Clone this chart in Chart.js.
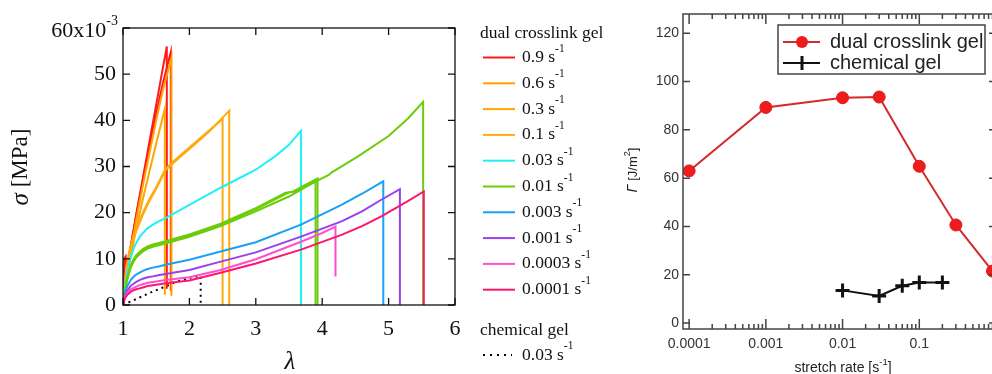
<!DOCTYPE html>
<html>
<head>
<meta charset="utf-8">
<script src="https://cdn.jsdelivr.net/npm/chart.js@4.4.0/dist/chart.umd.min.js"></script>
<style>
html,body{margin:0;padding:0;background:#fff;overflow:hidden;width:992px;height:374px}
#left{position:absolute;left:0;top:0}
#right{position:absolute;left:620px;top:0}
</style>
</head>
<body>
<canvas id="left" width="620" height="374"></canvas>
<canvas id="right" width="400" height="374"></canvas>
<script>
// ---- left panel: stress (x1e-3 MPa) vs stretch, one pair of arrays per curve
const lam09a = [1, 1.02, 1.04, 1.06, 1.1, 1.2, 1.3, 1.4, 1.5, 1.6, 1.66, 1.66];
const sig09a = [0, 10, 10.5, 7, 11, 19.7, 27.6, 35.5, 43.4, 51.3, 56, 3.5];
const lam09b = [1, 1.03, 1.06, 1.1, 1.2, 1.3, 1.4, 1.5, 1.6, 1.72, 1.72];
const sig09b = [0, 6, 9, 11.5, 19.5, 27, 34.5, 41.5, 48, 54.8, 3];
const lam06 = [1, 1.03, 1.06, 1.1, 1.2, 1.3, 1.4, 1.5, 1.6, 1.73, 1.73];
const sig06 = [0, 4, 7.5, 10.5, 18.5, 26, 33, 40, 46.5, 53.5, 2];
const lam03 = [1, 1.03, 1.06, 1.1, 1.2, 1.3, 1.4, 1.5, 1.63, 1.63];
const sig03 = [0, 3.5, 6.5, 9.5, 16.5, 23, 29, 35, 42.5, 2.2];
const lam01a = [1, 1.02, 1.05, 1.1, 1.15, 1.2, 1.3, 1.4, 1.5, 1.64, 1.8, 2, 2.2, 2.5, 2.5];
const sig01a = [0, 4, 8, 12, 14.5, 16.5, 20, 23, 25.5, 29.5, 31.6, 34.1, 36.6, 40.3, 0];
const lam01b = [1, 1.02, 1.05, 1.1, 1.15, 1.2, 1.3, 1.4, 1.5, 1.64, 1.8, 2, 2.3, 2.6, 2.6];
const sig01b = [0, 3.8, 7.7, 11.6, 14, 16, 19.6, 22.6, 25.2, 29.2, 31.3, 33.8, 37.6, 42.1, 0];
const lam003 = [1, 1.015, 1.03, 1.05, 1.07, 1.1, 1.12, 1.16, 1.2, 1.25, 1.3, 1.37, 1.45, 1.55, 1.64, 2, 2.47, 3, 3.3, 3.5, 3.68, 3.68];
const sig003 = [0, 2.2, 4, 6, 7.5, 9.5, 10.5, 12.2, 13.5, 14.7, 15.6, 16.6, 17.4, 18.2, 18.8, 21.7, 25.4, 29.3, 32.3, 34.7, 37.7, 0];
const lam001a = [1, 1.015, 1.03, 1.05, 1.07, 1.1, 1.12, 1.16, 1.2, 1.25, 1.3, 1.37, 1.45, 1.55, 1.64, 2, 2.47, 3, 3.5, 3.6, 4.1, 4.15, 4.54, 5, 5.3, 5.52, 5.52];
const sig001a = [0, 1.6, 3, 4.8, 6, 7.5, 8.5, 9.6, 10.5, 11.2, 11.8, 12.4, 12.8, 13.2, 13.5, 15, 17.3, 20.8, 24.4, 24.6, 28.2, 28.8, 32.2, 36.6, 40.5, 44, 0];
const lam001b = [1, 1.015, 1.03, 1.05, 1.07, 1.1, 1.12, 1.16, 1.2, 1.25, 1.3, 1.37, 1.45, 1.55, 1.64, 2, 2.47, 3, 3.45, 3.55, 3.93, 3.93];
const sig001b = [0, 1.8, 3.2, 5, 6.3, 7.8, 8.8, 9.9, 10.8, 11.5, 12.1, 12.7, 13.1, 13.5, 13.8, 15.3, 17.6, 21, 24.3, 24.5, 27.4, 0];
const lam001c = [1, 1.015, 1.03, 1.05, 1.07, 1.1, 1.12, 1.16, 1.2, 1.25, 1.3, 1.37, 1.45, 1.55, 1.64, 2, 2.47, 3, 3.5, 3.9, 3.9];
const sig001c = [0, 1.5, 2.8, 4.6, 5.8, 7.3, 8.3, 9.4, 10.3, 11, 11.6, 12.2, 12.6, 13, 13.3, 14.8, 17.1, 20.3, 23.5, 26.8, 0];
const lam0003 = [1, 1.015, 1.03, 1.05, 1.07, 1.1, 1.12, 1.16, 1.2, 1.25, 1.3, 1.37, 1.45, 1.55, 1.64, 2, 2.47, 3, 3.68, 4.29, 4.6, 4.92, 4.92];
const sig0003 = [0, 1.4, 2.5, 3.5, 4.2, 5, 5.5, 6.1, 6.6, 7, 7.4, 7.8, 8.1, 8.4, 8.7, 9.8, 11.6, 13.6, 17.4, 21.7, 24.1, 26.8, 0];
const lam0001 = [1, 1.015, 1.03, 1.05, 1.07, 1.1, 1.12, 1.16, 1.2, 1.25, 1.3, 1.37, 1.45, 1.55, 1.64, 2, 2.47, 3, 3.68, 4.29, 4.6, 4.89, 5.17, 5.17];
const sig0001 = [0, 1.1, 2, 2.7, 3.2, 3.8, 4.2, 4.6, 5, 5.4, 5.7, 6, 6.2, 6.5, 6.7, 7.6, 9.4, 11.4, 14.8, 18.1, 20.3, 22.8, 25.1, 0];
const lam00003 = [1, 1.015, 1.03, 1.05, 1.07, 1.1, 1.12, 1.16, 1.2, 1.25, 1.3, 1.37, 1.45, 1.55, 1.64, 2, 2.47, 3, 3.68, 4, 4.2, 4.2];
const sig00003 = [0, 1, 1.8, 2.3, 2.7, 3.1, 3.4, 3.7, 4, 4.3, 4.5, 4.8, 5, 5.2, 5.4, 6, 7.6, 9.9, 13.7, 15.6, 17, 6.2];
const lam00001 = [1, 1.015, 1.03, 1.05, 1.07, 1.1, 1.12, 1.16, 1.2, 1.25, 1.3, 1.37, 1.45, 1.55, 1.64, 2, 2.47, 3, 3.68, 4.29, 4.6, 4.89, 5.29, 5.53, 5.53];
const sig00001 = [0, 0.8, 1.5, 1.9, 2.3, 2.6, 2.9, 3.2, 3.4, 3.6, 3.8, 4.1, 4.3, 4.5, 4.7, 5.3, 7, 9, 12, 15.2, 17.1, 19.2, 22.5, 24.6, 0];
const lamChem = [1, 1.2, 1.4, 1.6, 1.8, 2, 2.17, 2.17];
const sigChem = [0, 1.3, 2.6, 3.8, 5, 5.9, 6.3, 0];

const rateLabels = ['0.9', '0.6', '0.3', '0.1', '0.03', '0.01', '0.003', '0.001', '0.0003', '0.0001'];
const rateColors = ['#ff1a1a', '#ffa000', '#ffa500', '#ffaa10', '#1ff0f5', '#6ccc0a', '#1aa0f5', '#9a3ff0', '#ff4fd0', '#ff1470'];

// ---- right panel: fracture energy vs stretch rate
const ratesDual = [0.0001, 0.001, 0.01, 0.03, 0.1, 0.3, 0.9];
const gammaDual = [63, 89.3, 93.3, 93.6, 64.9, 40.6, 21.5];
const ratesChem = [0.01, 0.03, 0.06, 0.1, 0.2];
const gammaChem = [13.5, 11.2, 15.4, 16.8, 16.8];
const rateTicks = [0.0001, 0.001, 0.01, 0.1];
const rateTickLabels = ['0.0001', '0.001', '0.01', '0.1'];
const gammaTicks = [0, 20, 40, 60, 80, 100, 120];

const SERIF = '"Liberation Serif", "Times New Roman", serif';
const SANS = '"Liberation Sans", Arial, sans-serif';

function pts(xs, ys) { return xs.map((x, i) => ({x: x, y: ys[i]})); }

// text made of runs (normal / italic / raised)
function drawRuns(ctx, runs, x, y, family, align) {
  let w = 0;
  runs.forEach(r => {
    ctx.font = (r.it ? 'italic ' : '') + r.size + 'px ' + family;
    r.w = ctx.measureText(r.t).width;
    w += r.w;
  });
  let cx = align === 'left' ? x : align === 'right' ? x - w : x - w / 2;
  ctx.textAlign = 'left';
  runs.forEach(r => {
    ctx.font = (r.it ? 'italic ' : '') + r.size + 'px ' + family;
    ctx.fillText(r.t, cx, y + (r.dy || 0));
    cx += r.w;
  });
}

// frame around plot area with inward ticks
const boxTicks = {
  id: 'boxTicks',
  afterDatasetsDraw(chart, args, o) {
    const {ctx, chartArea: a, scales} = chart;
    const sx = scales.x, sy = scales.y;
    ctx.save();
    ctx.strokeStyle = o.color;
    ctx.lineWidth = o.width;
    ctx.strokeRect(a.left, a.top, a.right - a.left, a.bottom - a.top);
    ctx.beginPath();
    const xt = (vals, len) => vals.forEach(v => {
      const p = sx.getPixelForValue(v);
      if (p < a.left - 0.5 || p > a.right + 0.5) return;
      ctx.moveTo(p, a.bottom); ctx.lineTo(p, a.bottom - len);
      ctx.moveTo(p, a.top); ctx.lineTo(p, a.top + len);
    });
    const yt = (vals, len) => vals.forEach(v => {
      const p = sy.getPixelForValue(v);
      ctx.moveTo(a.left, p); ctx.lineTo(a.left + len, p);
      ctx.moveTo(a.right, p); ctx.lineTo(a.right - len, p);
    });
    xt(o.xMajor, o.majorLen);
    if (o.xMinor) xt(o.xMinor, o.minorLen);
    yt(o.yMajor, o.yLen);
    ctx.stroke();
    ctx.restore();
  }
};

// ---------------- left chart ----------------
const leftSets = [
  [lam09a, sig09a, 0], [lam09b, sig09b, 0], [lam06, sig06, 1], [lam03, sig03, 2],
  [lam01a, sig01a, 3], [lam01b, sig01b, 3], [lam003, sig003, 4],
  [lam001a, sig001a, 5], [lam001b, sig001b, 5], [lam001c, sig001c, 5],
  [lam0003, sig0003, 6], [lam0001, sig0001, 7], [lam00003, sig00003, 8], [lam00001, sig00001, 9]
];
const datasetsL = leftSets.map(s => ({
  data: pts(s[0], s[1]),
  borderColor: rateColors[s[2]],
  borderWidth: 2,
  pointRadius: 0,
  tension: 0
})).reverse();
datasetsL.push({
  data: pts(lamChem, sigChem),
  borderColor: '#000',
  borderWidth: 2,
  borderDash: [2, 4],
  pointRadius: 0,
  tension: 0
});

const leftNotes = {
  id: 'leftNotes',
  afterDraw(chart) {
    const ctx = chart.ctx;
    ctx.save();
    ctx.fillStyle = '#111';
    ctx.textBaseline = 'middle';
    // top tick label
    drawRuns(ctx, [{t: '60x10', size: 22}, {t: '-3', size: 14, dy: -10}], 118, 31, SERIF, 'right');
    // axis titles
    drawRuns(ctx, [{t: 'λ', size: 25, it: true}], 290, 362, SERIF, 'center');
    ctx.save();
    ctx.translate(21, 167);
    ctx.rotate(-Math.PI / 2);
    drawRuns(ctx, [{t: 'σ', size: 25, it: true}, {t: ' [MPa]', size: 23}], 0, 0, SERIF, 'center');
    ctx.restore();
    // legend
    drawRuns(ctx, [{t: 'dual crosslink gel', size: 17.5}], 480, 33, SERIF, 'left');
    rateLabels.forEach((lab, i) => {
      const y = 57.5 + i * 25.8;
      ctx.strokeStyle = rateColors[i];
      ctx.lineWidth = 2;
      ctx.beginPath(); ctx.moveTo(483, y); ctx.lineTo(515, y); ctx.stroke();
      drawRuns(ctx, [{t: lab + ' s', size: 17.5}, {t: '-1', size: 11.5, dy: -9}], 522, y, SERIF, 'left');
    });
    drawRuns(ctx, [{t: 'chemical gel', size: 17.5}], 480, 330, SERIF, 'left');
    ctx.strokeStyle = '#000';
    ctx.setLineDash([2, 5]);
    ctx.beginPath(); ctx.moveTo(483, 355); ctx.lineTo(512, 355); ctx.stroke();
    ctx.setLineDash([]);
    drawRuns(ctx, [{t: '0.03 s', size: 17.5}, {t: '-1', size: 11.5, dy: -9}], 522, 355, SERIF, 'left');
    ctx.restore();
  }
};

new Chart(document.getElementById('left'), {
  type: 'line',
  data: {datasets: datasetsL},
  options: {
    responsive: false,
    animation: false,
    layout: {padding: {top: 28, right: 165, left: 0, bottom: 0}},
    plugins: {
      legend: {display: false},
      tooltip: {enabled: false},
      boxTicks: {color: '#111', width: 1.3, xMajor: [1, 2, 3, 4, 5, 6], yMajor: [0, 10, 20, 30, 40, 50, 60], majorLen: 7, yLen: 7}
    },
    scales: {
      x: {
        type: 'linear', min: 1, max: 6,
        afterFit: s => { s.height = 69; },
        grid: {display: false, drawTicks: false},
        border: {display: false},
        ticks: {stepSize: 1, autoSkip: false, maxRotation: 0, padding: 11, color: '#111', font: {family: SERIF, size: 22}}
      },
      y: {
        min: 0, max: 60,
        afterFit: s => { s.width = 123; },
        grid: {display: false, drawTicks: false},
        border: {display: false},
        ticks: {stepSize: 10, autoSkip: false, padding: 7, color: '#111', font: {family: SERIF, size: 22},
          callback: v => v === 60 ? '' : v}
      }
    }
  },
  plugins: [boxTicks, leftNotes]
});

// ---------------- right chart ----------------
const minorRates = [];
[0.0001, 0.001, 0.01, 0.1].forEach(d => { for (let k = 2; k <= 9; k++) minorRates.push(d * k); });

const rightNotes = {
  id: 'rightNotes',
  afterDraw(chart) {
    const ctx = chart.ctx;
    ctx.save();
    ctx.fillStyle = '#222';
    ctx.textBaseline = 'middle';
    drawRuns(ctx, [{t: 'stretch rate [s', size: 14}, {t: '-1', size: 9.5, dy: -6}, {t: ']', size: 14}], 223, 368, SANS, 'center');
    ctx.save();
    ctx.translate(13, 170);
    ctx.rotate(-Math.PI / 2);
    drawRuns(ctx, [{t: 'Γ', size: 14, it: true}, {t: ' [J/m', size: 13}, {t: '2', size: 9, dy: -5}, {t: ']', size: 13}], 0, 0, SANS, 'center');
    ctx.restore();
    // legend box
    ctx.strokeStyle = '#444';
    ctx.lineWidth = 1.5;
    ctx.strokeRect(158, 25, 207, 49);
    ctx.strokeStyle = '#d42a2a';
    ctx.lineWidth = 2;
    ctx.beginPath(); ctx.moveTo(163, 42); ctx.lineTo(200, 42); ctx.stroke();
    ctx.fillStyle = '#ee1c1c';
    ctx.beginPath(); ctx.arc(182, 42, 6, 0, Math.PI * 2); ctx.fill();
    ctx.strokeStyle = '#111';
    ctx.beginPath(); ctx.moveTo(163, 63); ctx.lineTo(200, 63); ctx.stroke();
    ctx.lineWidth = 3;
    ctx.beginPath(); ctx.moveTo(182, 56); ctx.lineTo(182, 70); ctx.stroke();
    ctx.fillStyle = '#222';
    drawRuns(ctx, [{t: 'dual crosslink gel', size: 20}], 210, 42, SANS, 'left');
    drawRuns(ctx, [{t: 'chemical gel', size: 20}], 210, 63, SANS, 'left');
    ctx.restore();
  }
};

new Chart(document.getElementById('right'), {
  type: 'line',
  data: {
    datasets: [
      {
        data: pts(ratesChem, gammaChem),
        borderColor: '#111', borderWidth: 2,
        pointStyle: 'cross', pointRadius: 7, pointBorderWidth: 3,
        pointBorderColor: '#111', tension: 0
      },
      {
        data: pts(ratesDual, gammaDual),
        borderColor: '#d42a2a', borderWidth: 2,
        pointStyle: 'circle', pointRadius: 6, pointBorderWidth: 1,
        pointBackgroundColor: '#ee1c1c', pointBorderColor: '#e01818', tension: 0
      }
    ]
  },
  options: {
    responsive: false,
    animation: false,
    layout: {padding: {top: 14, right: 24, left: 0, bottom: 0}},
    plugins: {
      legend: {display: false},
      tooltip: {enabled: false},
      boxTicks: {color: '#444', width: 1.5, xMajor: [0.0001, 0.001, 0.01, 0.1, 1], xMinor: minorRates,
        yMajor: gammaTicks, majorLen: 10, minorLen: 5, yLen: 7}
    },
    scales: {
      x: {
        type: 'logarithmic', min: 0.0000832, max: 1,
        afterFit: s => { s.height = 45; },
        afterBuildTicks: s => { s.ticks = rateTicks.map(v => ({value: v})); },
        grid: {display: false, drawTicks: false},
        border: {display: false},
        ticks: {autoSkip: false, maxRotation: 0, padding: 7, color: '#333', font: {family: SANS, size: 14},
          callback: (v, i) => rateTickLabels[i]}
      },
      y: {
        min: -2.5, max: 128,
        afterFit: s => { s.width = 63; },
        afterBuildTicks: s => { s.ticks = gammaTicks.map(v => ({value: v})); },
        grid: {display: false, drawTicks: false},
        border: {display: false},
        ticks: {autoSkip: false, padding: 4, color: '#333', font: {family: SANS, size: 14}}
      }
    }
  },
  plugins: [boxTicks, rightNotes]
});
</script>
</body>
</html>
